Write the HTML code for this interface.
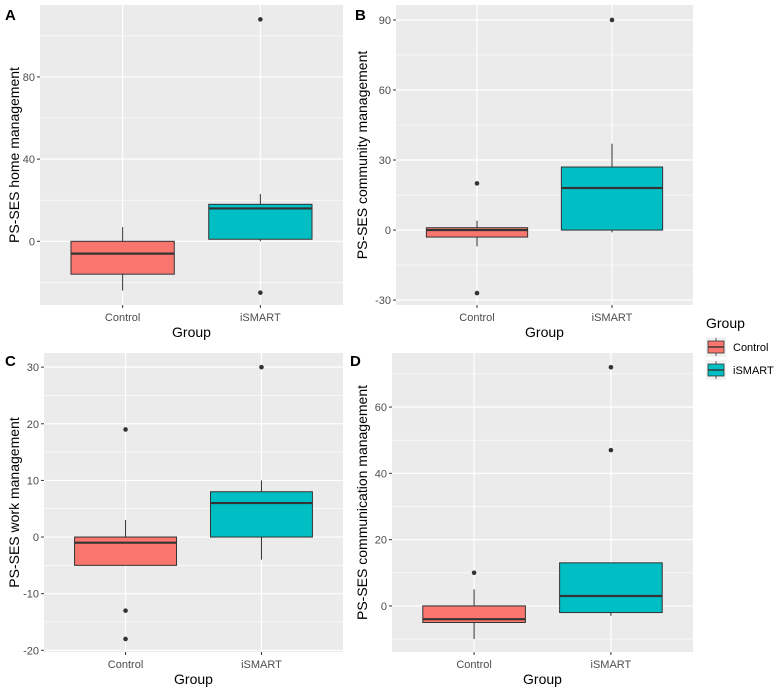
<!DOCTYPE html>
<html><head><meta charset="utf-8">
<style>
html,body{margin:0;padding:0;background:#fff;}
svg{display:block;font-family:"Liberation Sans",Arial,sans-serif;}
</style></head>
<body>
<svg id="chart" width="780" height="693" viewBox="0 0 780 693"></svg>
<script>
const groups = ["Control", "iSMART"];
const fills = ["#F8766D", "#00BFC4"];
// Panel A
const aTicks = [0, 40, 80];
const aLo = [-24, 0], aQ1 = [-16, 1], aMed = [-6, 16], aQ3 = [0, 18], aHi = [7, 23];
const aOut = [[], [108, -25]];
// Panel B
const bTicks = [-30, 0, 30, 60, 90];
const bLo = [-7, -1], bQ1 = [-3, 0], bMed = [0, 18], bQ3 = [1, 27], bHi = [4, 37];
const bOut = [[20, -27], [90]];
// Panel C
const cTicks = [-20, -10, 0, 10, 20, 30];
const cLo = [-5, -4], cQ1 = [-5, 0], cMed = [-1, 6], cQ3 = [0, 8], cHi = [3, 10];
const cOut = [[19, -13, -18], [30]];
// Panel D
const dTicks = [0, 20, 40, 60];
const dLo = [-10, -3], dQ1 = [-5, -2], dMed = [-4, 3], dQ3 = [0, 13], dHi = [5, 13];
const dOut = [[10], [47, 72]];

const NS = "http://www.w3.org/2000/svg";
const svg = document.getElementById("chart");
function mk(tag, attrs, parent) {
  const e = document.createElementNS(NS, tag);
  for (const k in attrs) e.setAttribute(k, attrs[k]);
  (parent || svg).appendChild(e);
  return e;
}

const panels = [
  {key:"a", letter:"A", title:"PS-SES home management", x0:40, x1:343, y0:5, y1:305, vmin:-31, vmax:115, ticks:aTicks, lo:aLo, q1:aQ1, med:aMed, q3:aQ3, hi:aHi, out:aOut, lx:5, ly:20, ytx:14},
  {key:"b", letter:"B", title:"PS-SES community management", x0:396, x1:693, y0:5, y1:305, vmin:-32.1, vmax:96.4, ticks:bTicks, lo:bLo, q1:bQ1, med:bMed, q3:bQ3, hi:bHi, out:bOut, lx:355, ly:20, ytx:362},
  {key:"c", letter:"C", title:"PS-SES work management", x0:44, x1:343, y0:353, y1:652, vmin:-20.3, vmax:32.5, ticks:cTicks, lo:cLo, q1:cQ1, med:cMed, q3:cQ3, hi:cHi, out:cOut, lx:5, ly:366, ytx:14},
  {key:"d", letter:"D", title:"PS-SES communication management", x0:392, x1:693, y0:353, y1:652, vmin:-13.9, vmax:76.3, ticks:dTicks, lo:dLo, q1:dQ1, med:dMed, q3:dQ3, hi:dHi, out:dOut, lx:350, ly:366, ytx:362}
];

panels.forEach(p => {
  const g = mk("g", {});
  
  
  const y = v => p.y1 - (v - p.vmin) / (p.vmax - p.vmin) * (p.y1 - p.y0);
  const unit = (p.x1 - p.x0) / 2.2;
  const x = i => p.x0 + unit * (i + 0.6);
  const bg = mk("rect", {x:p.x0, y:p.y0, width:p.x1-p.x0, height:p.y1-p.y0, fill:"#EBEBEB"}, g);
  
  
  const step = p.ticks[1] - p.ticks[0];
  for (let v = p.ticks[0] - step/2; v <= p.vmax; v += step) {
    if (v < p.vmin) continue;
    mk("line", {x1:p.x0, x2:p.x1, y1:y(v), y2:y(v), stroke:"#fff", "stroke-width":0.6}, g);
  }
  p.ticks.forEach(t => {
    mk("line", {x1:p.x0, x2:p.x1, y1:y(t), y2:y(t), stroke:"#fff", "stroke-width":1.2}, g);
    mk("line", {x1:p.x0-3, x2:p.x0, y1:y(t), y2:y(t), stroke:"#333", "stroke-width":1}, g);
    const tl = mk("text", {x:p.x0-5, y:y(t)+4, "text-anchor":"end", "font-size":11, fill:"#4D4D4D"}, g);
    tl.textContent = t;
    
    
  });
  groups.forEach((gr, i) => {
    const cx = x(i);
    mk("line", {x1:cx, x2:cx, y1:p.y0, y2:p.y1, stroke:"#fff", "stroke-width":1.2}, g);
    mk("line", {x1:cx, x2:cx, y1:p.y1, y2:p.y1+3, stroke:"#333", "stroke-width":1}, g);
    const xl = mk("text", {x:cx, y:p.y1+16, "text-anchor":"middle", "font-size":11, fill:"#4D4D4D"}, g);
    xl.textContent = gr;
    
    
  });
  groups.forEach((gr, i) => {
    const cx = x(i), hw = unit * 0.75 / 2;
    const bx = mk("g", {}, g);
    
    
    mk("line", {x1:cx, x2:cx, y1:y(p.hi[i]), y2:y(p.q3[i]), stroke:"#333", "stroke-width":1}, bx);
    mk("line", {x1:cx, x2:cx, y1:y(p.q1[i]), y2:y(p.lo[i]), stroke:"#333", "stroke-width":1}, bx);
    mk("rect", {x:cx-hw, y:y(p.q3[i]), width:hw*2, height:Math.max(1, y(p.q1[i])-y(p.q3[i])), fill:fills[i], stroke:"#333", "stroke-width":1}, bx);
    mk("line", {x1:cx-hw, x2:cx+hw, y1:y(p.med[i]), y2:y(p.med[i]), stroke:"#333", "stroke-width":2.2}, bx);
    p.out[i].forEach(o => {
      const c = mk("circle", {cx:cx, cy:y(o), r:2.3, fill:"#333"}, bx);
      
      
    });
  });
  const xt = mk("text", {x:(p.x0+p.x1)/2, y:p.y1+32, "text-anchor":"middle", "font-size":14, fill:"#000"}, g);
  xt.textContent = "Group";
  
  
  const cy = (p.y0+p.y1)/2;
  const yt = mk("text", {x:p.ytx, y:cy, "text-anchor":"middle", "font-size":14, fill:"#000", transform:`rotate(-90 ${p.ytx} ${cy})`, dy:"0.35em"}, g);
  yt.textContent = p.title;
  
  
  const lt = mk("text", {x:p.lx, y:p.ly, "font-size":15, "font-weight":"bold", fill:"#000"}, g);
  lt.textContent = p.letter;
  
  
});

const lg = mk("g", {});


const ltl = mk("text", {x:706, y:328, "font-size":14, fill:"#000"}, lg);
ltl.textContent = "Group";


groups.forEach((gr, i) => {
  const ky = 337 + i * 23;
  const e = mk("g", {}, lg);
  
  
  mk("rect", {x:706, y:ky, width:20, height:20, fill:"#F2F2F2"}, e);
  mk("line", {x1:716, x2:716, y1:ky+1, y2:ky+19, stroke:"#333", "stroke-width":0.8}, e);
  mk("rect", {x:708, y:ky+4, width:16, height:12, fill:fills[i], stroke:"#333", "stroke-width":0.8}, e);
  mk("line", {x1:708, x2:724, y1:ky+10, y2:ky+10, stroke:"#333", "stroke-width":1.4}, e);
  const t = mk("text", {x:733, y:ky+14, "font-size":11, fill:"#000"}, e);
  t.textContent = gr;
});
</script>
</body></html>
